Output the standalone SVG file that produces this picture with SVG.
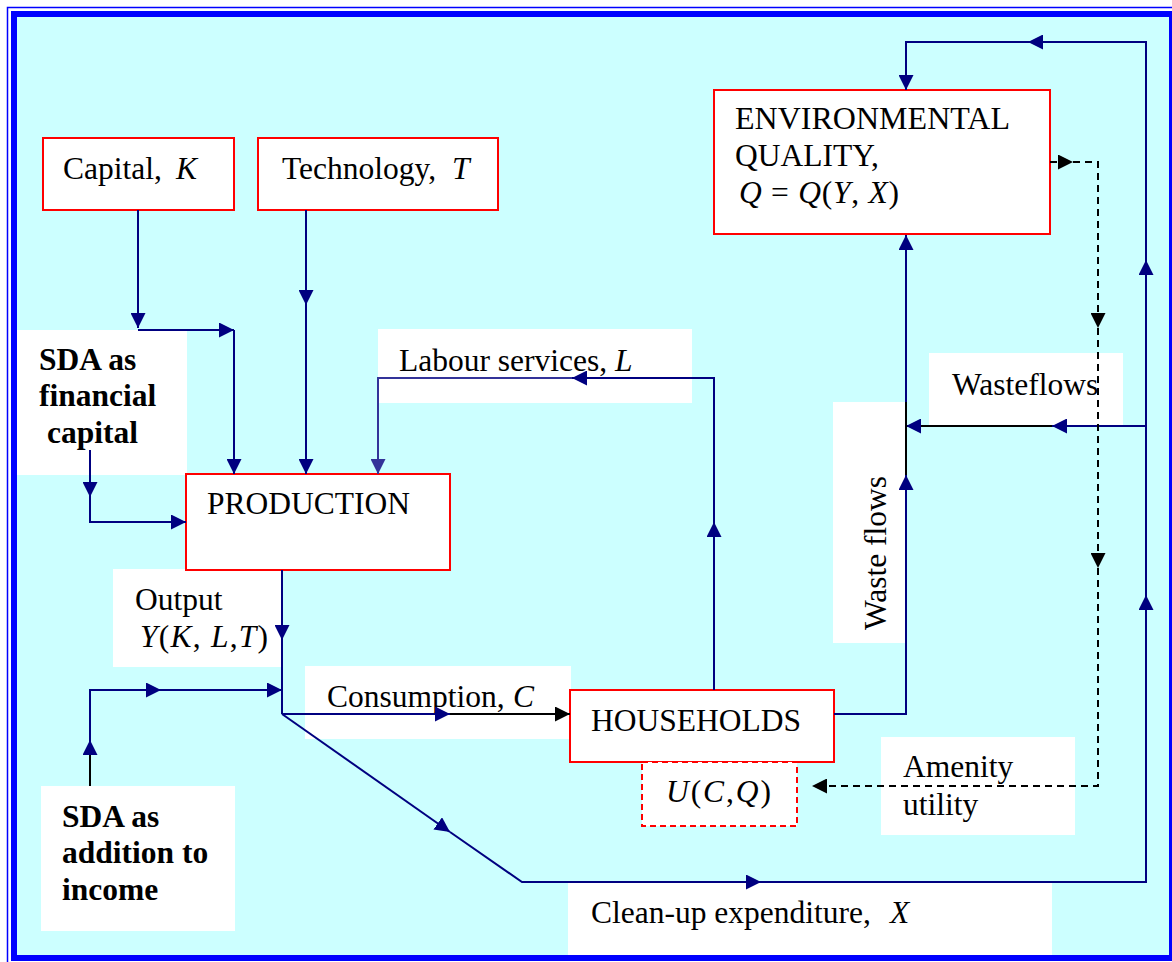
<svg xmlns="http://www.w3.org/2000/svg" width="1172" height="962" viewBox="0 0 1172 962">
<defs>
<marker id="an" viewBox="0 0 15 15" refX="15" refY="7.5" markerWidth="15" markerHeight="15" markerUnits="userSpaceOnUse" orient="auto"><path d="M0,0 L15,7.5 L0,15 z" fill="#000080"/></marker>
<marker id="ab" viewBox="0 0 15 15" refX="15" refY="7.5" markerWidth="15" markerHeight="15" markerUnits="userSpaceOnUse" orient="auto"><path d="M0,0 L15,7.5 L0,15 z" fill="#000000"/></marker>
<marker id="al" viewBox="0 0 15 15" refX="15" refY="7.5" markerWidth="15" markerHeight="15" markerUnits="userSpaceOnUse" orient="auto"><path d="M0,0 L15,7.5 L0,15 z" fill="#333399"/></marker>
<style>
.t{font-family:"Liberation Serif","Times New Roman",serif;font-size:31.5px;fill:#000}
.b{font-weight:bold}
.i{font-style:italic}
.box{fill:#fff;stroke:#ff0000;stroke-width:2}
.dbox{fill:#fff;stroke:#ff0000;stroke-width:2;stroke-dasharray:6,4}
.lbl{fill:#fff;stroke:none}
.n{fill:none;stroke:#000080;stroke-width:2}
.k{fill:none;stroke:#000;stroke-width:2}
.l{fill:none;stroke:#333399;stroke-width:2}
.d{fill:none;stroke:#000;stroke-width:2;stroke-dasharray:7,5}
</style>
</defs>
<rect x="0" y="0" width="1172" height="962" fill="#fff"/>
<rect x="7.5" y="7.5" width="1170" height="960" fill="none" stroke="#0000ff" stroke-width="1.5"/>
<rect x="14" y="14" width="1158" height="944" fill="#ccffff" stroke="#0000ff" stroke-width="6"/>

<g id="label-sda-financial">
<rect class="lbl" x="17" y="330" width="170" height="145"/>
<text class="t b" x="39" y="370">SDA as</text>
<text class="t b" x="39" y="406">financial</text>
<text class="t b" x="47" y="443">capital</text>
</g>
<g id="label-labour">
<rect class="lbl" x="378" y="329" width="314" height="74"/>
<text class="t" x="399" y="371">Labour services,<tspan class="i" x="615">L</tspan></text>
</g>
<g id="label-output">
<rect class="lbl" x="113" y="569" width="169" height="98"/>
<text class="t" x="135" y="610">Output</text>
<text class="t" x="140" y="647" textLength="128" lengthAdjust="spacing"><tspan class="i">Y</tspan>(<tspan class="i">K</tspan>, <tspan class="i">L</tspan>,<tspan class="i">T</tspan>)</text>
</g>
<g id="label-consumption">
<rect class="lbl" x="305" y="666" width="266" height="73"/>
<text class="t" x="327" y="707">Consumption,<tspan class="i" x="513">C</tspan></text>
</g>
<g id="label-sda-income">
<rect class="lbl" x="41" y="786" width="194" height="145"/>
<text class="t b" x="62" y="827">SDA as</text>
<text class="t b" x="62" y="863">addition to</text>
<text class="t b" x="62" y="900">income</text>
</g>
<g id="label-cleanup">
<rect class="lbl" x="568" y="882" width="484" height="73"/>
<text class="t" x="591" y="923">Clean-up expenditure,<tspan class="i" x="890">X</tspan></text>
</g>
<g id="label-amenity">
<rect class="lbl" x="881" y="737" width="194" height="98"/>
<text class="t" x="903" y="777">Amenity</text>
<text class="t" x="903" y="815">utility</text>
</g>
<g id="label-wasteflows">
<rect class="lbl" x="929" y="353" width="194" height="72"/>
<text class="t" x="952" y="395">Wasteflows</text>
</g>
<g id="label-waste-flows-vertical">
<rect class="lbl" x="833" y="402" width="73" height="241"/>
<text class="t" transform="translate(886,630) rotate(-90)" x="0" y="0">Waste flows</text>
</g>

<g id="node-capital">
<rect class="box" x="43" y="138" width="191" height="72"/>
<text class="t" x="63" y="179">Capital,<tspan class="i" x="176">K</tspan></text>
</g>
<g id="node-technology">
<rect class="box" x="258" y="138" width="240" height="72"/>
<text class="t" x="282" y="179">Technology,<tspan class="i" x="452">T</tspan></text>
</g>
<g id="node-environment">
<rect class="box" x="714" y="90" width="336" height="144"/>
<text class="t" x="735" y="129" textLength="275" lengthAdjust="spacingAndGlyphs">ENVIRONMENTAL</text>
<text class="t" x="735" y="166">QUALITY,</text>
<text class="t" x="739" y="203" textLength="160" lengthAdjust="spacing"><tspan class="i">Q</tspan> = <tspan class="i">Q</tspan>(<tspan class="i">Y</tspan>, <tspan class="i">X</tspan>)</text>
</g>
<g id="node-production">
<rect class="box" x="186" y="474" width="264" height="96"/>
<text class="t" x="207" y="514">PRODUCTION</text>
</g>
<g id="node-households">
<rect class="box" x="570" y="690" width="264" height="72"/>
<text class="t" x="591" y="731">HOUSEHOLDS</text>
</g>
<g id="node-utility">
<rect class="dbox" x="642" y="762" width="155" height="64"/>
<text class="t" x="666" y="802" textLength="105" lengthAdjust="spacing"><tspan class="i">U</tspan>(<tspan class="i">C</tspan>,<tspan class="i">Q</tspan>)</text>
</g>

<g id="connectors">
<path class="n" d="M138,210 V328" marker-end="url(#an)"/>
<path class="n" d="M138,330 H234" marker-end="url(#an)"/>
<path class="n" d="M234,330 V474" marker-end="url(#an)"/>
<path class="n" d="M306,210 V305" marker-end="url(#an)"/>
<path class="n" d="M306,305 V474" marker-end="url(#an)"/>
<path class="n" d="M90,450 V497" marker-end="url(#an)"/>
<path class="n" d="M90,497 V522 H186" marker-end="url(#an)"/>
<path class="n" d="M714,690 V522" marker-end="url(#an)"/>
<path class="n" d="M714,522 V378 H572" marker-end="url(#an)"/>
<path class="l" d="M572,378 H378 V474" marker-end="url(#al)"/>
<path class="n" d="M282,570 V640" marker-end="url(#an)"/>
<path class="n" d="M282,640 V714"/>
<path class="k" d="M90,786 V753"/>
<path class="n" d="M90,755 V740" marker-end="url(#an)"/>
<path class="n" d="M90,740 V690 H161" marker-end="url(#an)"/>
<path class="n" d="M161,690 H282" marker-end="url(#an)"/>
<path class="n" d="M282,714 H450" marker-end="url(#an)"/>
<path class="k" d="M450,714 H570" marker-end="url(#ab)"/>
<path class="n" d="M282,714 L450,832" marker-end="url(#an)"/>
<path class="n" d="M450,832 L522,882 H761" marker-end="url(#an)"/>
<path class="n" d="M761,882 H1146 V595" marker-end="url(#an)"/>
<path class="n" d="M1146,595 V260" marker-end="url(#an)"/>
<path class="n" d="M1146,260 V42 H1028" marker-end="url(#an)"/>
<path class="n" d="M1028,42 H906 V90" marker-end="url(#an)"/>
<path class="n" d="M1146,426 H1052" marker-end="url(#an)"/>
<path class="k" d="M1052,426 H906" marker-end="url(#an)"/>
<path class="n" d="M834,714 H906 V475" marker-end="url(#an)"/>
<path class="k" d="M906,475 V402"/>
<path class="n" d="M906,402 V235" marker-end="url(#an)"/>
<path class="d" d="M1050,162 H1073" marker-end="url(#ab)"/>
<path class="d" d="M1073,162 H1098 V328" marker-end="url(#ab)"/>
<path class="d" d="M1098,328 V568" marker-end="url(#ab)"/>
<path class="d" d="M1098,568 V786 H812" marker-end="url(#ab)"/>
</g>
</svg>
